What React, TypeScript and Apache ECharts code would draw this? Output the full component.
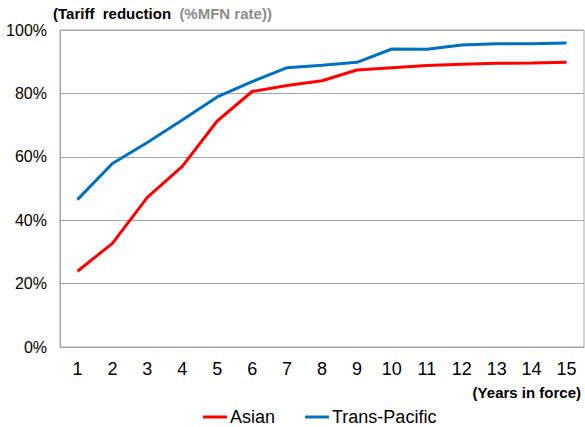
import React, { useEffect, useRef } from "react";
import * as echarts from "echarts";

const years = ["1", "2", "3", "4", "5", "6", "7", "8", "9", "10", "11", "12", "13", "14", "15"];
const asian = [23.9, 32.7, 47.2, 57.0, 71.3, 80.6, 82.5, 84.0, 87.4, 88.1, 88.8, 89.2, 89.5, 89.6, 89.8];
const transPacific = [46.5, 57.9, 64.5, 71.6, 78.9, 83.7, 88.1, 88.9, 89.8, 94.0, 93.9, 95.3, 95.7, 95.7, 95.9];
const yTicks = [0, 20, 40, 60, 80, 100];

export default function App() {
  const ref = useRef<HTMLDivElement>(null);
  useEffect(() => {
    if (!ref.current) return;
    const chart = echarts.init(ref.current, undefined, { renderer: "svg" });
    const font = "'Liberation Sans', Arial, sans-serif";
    chart.setOption({
      animation: false,
      backgroundColor: "#ffffff",
      textStyle: { fontFamily: font },
      grid: {
        left: 60,
        top: 30,
        right: 1,
        bottom: 80,
        show: true,
        borderColor: "#a6a6a6",
        borderWidth: 1,
        containLabel: false,
      },
      legend: {
        left: 198,
        top: 403,
        icon: "rect",
        itemWidth: 24,
        itemHeight: 3,
        itemGap: 30,
        textStyle: { fontFamily: font, fontSize: 18, color: "#000", padding: [0, 0, 0, -2] },
        data: ["Asian", "Trans-Pacific"],
      },
      graphic: [
        {
          type: "text",
          left: 53,
          top: 6,
          style: {
            text: "{a|(Tariff  reduction  }{b|(%MFN rate))}",
            rich: {
              a: { fontFamily: font, fontSize: 15, fontWeight: "bold", fill: "#000" },
              b: { fontFamily: font, fontSize: 15, fontWeight: "bold", fill: "#8c8c8c" },
            },
          },
        },
        {
          type: "text",
          right: 4,
          top: 385,
          style: {
            text: "(Years in force)",
            fontFamily: font,
            fontSize: 15,
            fontWeight: "bold",
            fill: "#000",
          },
        },
      ],
      xAxis: {
        type: "category",
        data: years,
        boundaryGap: true,
        axisLine: { lineStyle: { color: "#a6a6a6", width: 1 } },
        axisTick: { show: false },
        axisLabel: { color: "#000", fontSize: 18, margin: 13, fontFamily: font },
      },
      yAxis: {
        type: "value",
        min: yTicks[0],
        max: yTicks[yTicks.length - 1],
        interval: 20,
        axisLine: { show: true, lineStyle: { color: "#a6a6a6", width: 1 } },
        axisTick: { show: false },
        splitLine: { lineStyle: { color: "#a6a6a6", width: 1 } },
        axisLabel: {
          color: "#000",
          fontSize: 16,
          margin: 13,
          fontFamily: font,
          formatter: (v: number) => v + "%",
        },
      },
      series: [
        {
          name: "Asian",
          type: "line",
          data: asian,
          showSymbol: false,
          symbol: "none",
          lineStyle: { color: "#ff0000", width: 3 },
          itemStyle: { color: "#ff0000" },
        },
        {
          name: "Trans-Pacific",
          type: "line",
          data: transPacific,
          showSymbol: false,
          symbol: "none",
          lineStyle: { color: "#0070c0", width: 3 },
          itemStyle: { color: "#0070c0" },
        },
      ],
    });
    return () => chart.dispose();
  }, []);
  return (
    <div
      ref={ref}
      style={{ position: "absolute", left: 0, top: 0, width: 585, height: 427 }}
    />
  );
}
